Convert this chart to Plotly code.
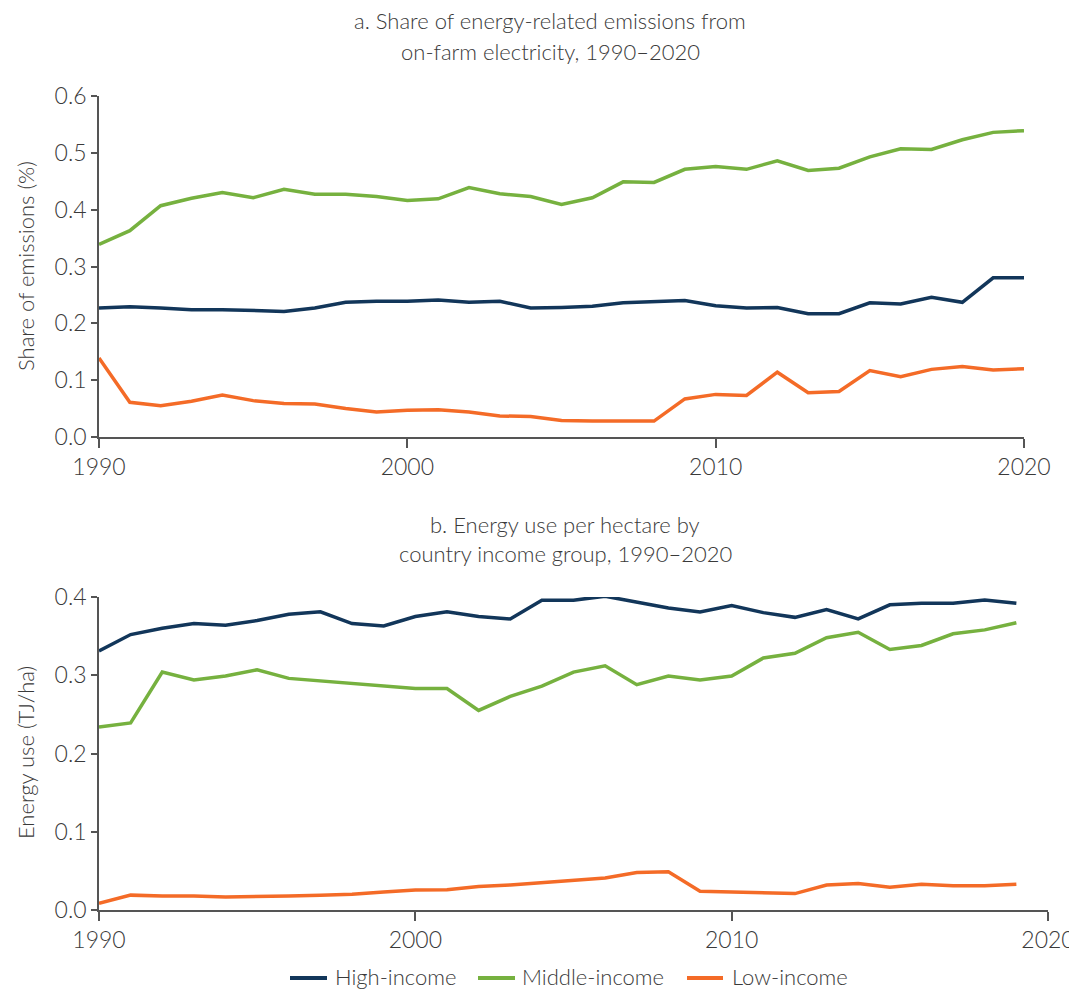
import plotly.graph_objects as go

years_a = list(range(1990, 2021))
years_b = list(range(1990, 2020))

high_a = [0.227, 0.229, 0.227, 0.224, 0.224, 0.222, 0.221, 0.227, 0.237, 0.239, 0.239,
          0.241, 0.237, 0.239, 0.227, 0.228, 0.230, 0.236, 0.238, 0.240, 0.231,
          0.227, 0.228, 0.217, 0.217, 0.236, 0.234, 0.246, 0.237, 0.280, 0.280]
middle_a = [0.339, 0.363, 0.407, 0.420, 0.430, 0.421, 0.436, 0.427, 0.427, 0.423, 0.416,
            0.419, 0.439, 0.428, 0.423, 0.409, 0.421, 0.449, 0.448, 0.471, 0.476,
            0.471, 0.486, 0.469, 0.473, 0.493, 0.507, 0.506, 0.523, 0.536, 0.539]
low_a = [0.139, 0.061, 0.055, 0.063, 0.074, 0.064, 0.059, 0.058, 0.050, 0.044, 0.047,
         0.048, 0.044, 0.037, 0.036, 0.029, 0.028, 0.028, 0.028, 0.067, 0.075,
         0.073, 0.114, 0.078, 0.080, 0.117, 0.106, 0.119, 0.124, 0.118, 0.120]

high_b = [0.331, 0.352, 0.360, 0.366, 0.364, 0.370, 0.378, 0.381, 0.366, 0.363, 0.375,
          0.381, 0.375, 0.372, 0.396, 0.396, 0.401, 0.394, 0.386, 0.381, 0.389,
          0.380, 0.374, 0.384, 0.372, 0.390, 0.392, 0.392, 0.396, 0.392]
middle_b = [0.234, 0.239, 0.304, 0.294, 0.299, 0.307, 0.296, 0.293, 0.290, 0.287, 0.283,
            0.283, 0.255, 0.273, 0.286, 0.304, 0.312, 0.288, 0.299, 0.294, 0.299,
            0.322, 0.328, 0.348, 0.355, 0.333, 0.338, 0.353, 0.358, 0.367]
low_b = [0.0085, 0.019, 0.018, 0.018, 0.0166, 0.017, 0.018, 0.019, 0.020, 0.023, 0.0255,
         0.026, 0.030, 0.032, 0.035, 0.038, 0.041, 0.048, 0.049, 0.024, 0.023,
         0.021, 0.021, 0.032, 0.034, 0.029, 0.033, 0.031, 0.031, 0.033]

series_names = ["High-income", "Middle-income", "Low-income"]
colors = ["#12365a", "#76b13f", "#f46b27"]

title_a = ["a. Share of energy-related emissions from", "on-farm electricity, 1990–2020"]
title_b = ["b. Energy use per hectare by", "country income group, 1990–2020"]
ytitle_a = "Share of emissions (%)"
ytitle_b = "Energy use (TJ/ha)"

FONT = "Lato"
TXT = "#3a3a3a"
AX = "#555555"

fig = go.Figure()
for name, col, ya, yb in zip(series_names, colors, [high_a, middle_a, low_a], [high_b, middle_b, low_b]):
    fig.add_trace(go.Scatter(x=years_a, y=ya, mode="lines", name=name,
                             line=dict(color=col, width=3.5), xaxis="x", yaxis="y",
                             showlegend=False))
    fig.add_trace(go.Scatter(x=years_b, y=yb, mode="lines", name=name,
                             line=dict(color=col, width=3.5), xaxis="x2", yaxis="y2",
                             showlegend=False))

# page body has an 8px margin; figure sized so its right/bottom edges meet the window edges
OFF = 8
W, H = 1077 - OFF, 992 - OFF
def px(v):
    return (v - OFF) / W
def py(v):
    return (H - (v - OFF)) / H

axis_common = dict(showgrid=False, zeroline=False, showline=True, linecolor=AX, linewidth=1.5,
                   ticks="outside", tickcolor=AX, tickwidth=1.5, automargin=False,
                   tickfont=dict(family=FONT, size=23, color=TXT, weight=300))

fig.update_layout(
    width=W, height=H,
    margin=dict(l=0, r=0, t=0, b=0, autoexpand=False),
    paper_bgcolor="white", plot_bgcolor="white",
    font=dict(family=FONT, color=TXT),
    xaxis=dict(domain=[px(99), px(1024)], range=[1990, 2020], tickvals=[1990, 2000, 2010, 2020],
               ticklen=9, anchor="y", **axis_common),
    yaxis=dict(domain=[py(437), py(96)], range=[0, 0.6], tickvals=[0, 0.1, 0.2, 0.3, 0.4, 0.5, 0.6],
               tickformat=".1f", ticklen=6, anchor="x", **axis_common),
    xaxis2=dict(domain=[px(99), px(1048)], range=[1990, 2020], tickvals=[1990, 2000, 2010, 2020],
                ticklen=9, anchor="y2", **axis_common),
    yaxis2=dict(domain=[py(910), py(597)], range=[0, 0.4], tickvals=[0, 0.1, 0.2, 0.3, 0.4],
                tickformat=".1f", ticklen=6, anchor="x2", **axis_common),
    showlegend=False,
)

def ann(text, x, y, size=22, angle=0, xanchor="center"):
    fig.add_annotation(text=text, x=px(x), y=py(y), xref="paper", yref="paper",
                       showarrow=False, textangle=angle, borderpad=0,
                       font=dict(family=FONT, size=size, color=TXT, weight=300),
                       xanchor=xanchor, yanchor="middle", align="center")

ann(title_a[0], 550, 21)
ann(title_a[1], 550, 51)
ann(title_b[0], 565, 524)
ann(title_b[1], 565, 553)
ann(ytitle_a, 25, 266, angle=-90)
ann(ytitle_b, 25, 753, angle=-90)

# manual legend (line samples + labels)
legend_line_x = [(290, 327), (478, 515), (687, 723)]
legend_text_x = [334, 521, 731]
for name, col, (x0, x1), tx in zip(series_names, colors, legend_line_x, legend_text_x):
    fig.add_shape(type="line", xref="paper", yref="paper",
                  x0=px(x0), x1=px(x1), y0=py(978), y1=py(978),
                  line=dict(color=col, width=4))
    ann(name, tx, 976, size=22, xanchor="left")

fig.write_html("out.html")
